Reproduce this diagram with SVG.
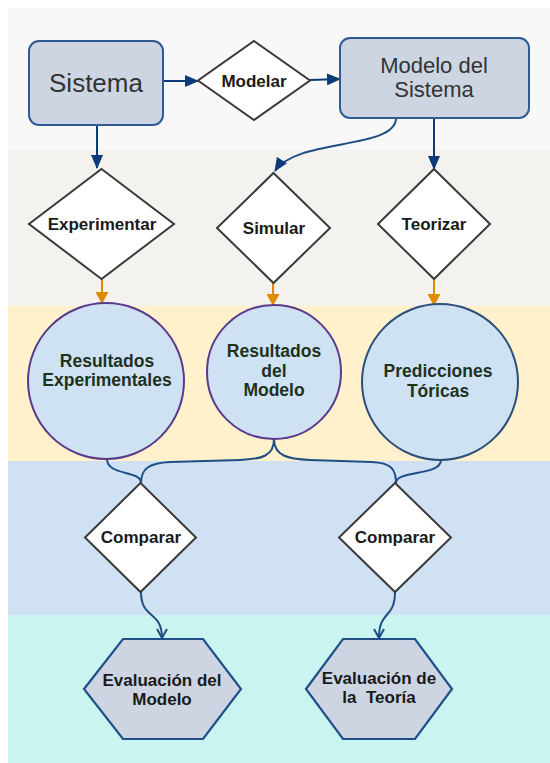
<svg xmlns="http://www.w3.org/2000/svg" width="550" height="763" viewBox="0 0 550 763">
<defs>
<style>
.box{fill:#cdd5e2;stroke:#2f5a94;stroke-width:2}
.dia{fill:#ffffff;stroke:#3a3a3a;stroke-width:2}
.circ{fill:#cfe2f3;stroke-width:2}
.hex{fill:#cdd5e2;stroke:#1f4e89;stroke-width:2.2}
.nav{fill:none;stroke:#0d3b77;stroke-width:2}
.cur{fill:none;stroke:#1f4e85;stroke-width:2}
.org{fill:none;stroke:#e08a00;stroke-width:2}
.tb{font-family:"Liberation Sans",Arial,sans-serif;font-weight:bold;font-size:17px;fill:#1a1a1a;text-anchor:middle}
.tg{font-family:"Liberation Sans",Arial,sans-serif;font-weight:bold;font-size:17.5px;fill:#1e321e;text-anchor:middle}
.tr{font-family:"Liberation Sans",Arial,sans-serif;fill:#333333;text-anchor:middle}
</style>
<marker id="an" markerUnits="userSpaceOnUse" markerWidth="14" markerHeight="12" viewBox="0 0 14 12" refX="13" refY="6" orient="auto"><path d="M0,0 L14,6 L0,12 z" fill="#0d3b77"/></marker>
<marker id="ao" markerUnits="userSpaceOnUse" markerWidth="12" markerHeight="13" viewBox="0 0 12 13" refX="11" refY="6.5" orient="auto"><path d="M0,0 L12,6.5 L0,13 z" fill="#e08a00"/></marker>
<marker id="av" markerUnits="userSpaceOnUse" markerWidth="12" markerHeight="12" viewBox="0 0 12 12" refX="10" refY="6" orient="auto"><path d="M1,1 L10,6 L1,11" fill="none" stroke="#1f4e85" stroke-width="2"/></marker>
</defs>
<rect width="550" height="763" fill="#ffffff"/>
<g id="bands">
<rect x="8" y="8" width="542" height="142" fill="#f8f8f8"/>
<rect x="8" y="150" width="542" height="156" fill="#f3f2ee"/>
<rect x="8" y="306" width="542" height="155" fill="#fff1cc"/>
<rect x="8" y="461" width="542" height="154" fill="#cfe1f2"/>
<rect x="8" y="615" width="542" height="148" fill="#c9f4f0"/>
</g>
<g id="connectors">
<path class="nav" d="M163,81 L198,81" marker-end="url(#an)"/>
<path class="nav" d="M310,80 L340,79" marker-end="url(#an)"/>
<path class="nav" d="M97,125 L97,168" marker-end="url(#an)"/>
<path class="nav" d="M434,118 L434,169" marker-end="url(#an)"/>
<path class="cur" d="M396,118 C396,150 296,138 275,171" marker-end="url(#an)"/>
<path class="org" d="M102,279 L102,303" marker-end="url(#ao)"/>
<path class="org" d="M273,283 L273,305" marker-end="url(#ao)"/>
<path class="org" d="M434,279 L434,305" marker-end="url(#ao)"/>
<path class="cur" d="M107,459 C107,476 141,470 141,483"/>
<path class="cur" d="M274,439 C274,456 262,459 240,460 L170,462 C150,463 141,468 141,483"/>
<path class="cur" d="M274,439 C274,456 288,459 310,460 L372,462 C390,463 396,468 396,483"/>
<path class="cur" d="M441,460 C441,476 396,470 396,483"/>
<path class="cur" d="M141,592 C141,620 162,610 162,638" marker-end="url(#av)"/>
<path class="cur" d="M395,592 C395,619 379,610 379,638" marker-end="url(#av)"/>
</g>
<g id="sistema">
<rect class="box" x="29" y="41" width="134" height="84" rx="10"/>
<text class="tr" x="96" y="92" font-size="26">Sistema</text>
</g>
<g id="modelar">
<polygon class="dia" points="254,41 310,80.5 254,120 198,80.5"/>
<text class="tb" x="254" y="87" font-size="19">Modelar</text>
</g>
<g id="modelo-sistema">
<rect class="box" x="340" y="38" width="189" height="80" rx="10"/>
<text class="tr" x="434" y="73" font-size="22">Modelo del</text>
<text class="tr" x="434" y="97" font-size="22">Sistema</text>
</g>
<g id="experimentar">
<polygon class="dia" points="101.5,169 174,224 101.5,279 29,224"/>
<text class="tb" x="102" y="230">Experimentar</text>
</g>
<g id="simular">
<polygon class="dia" points="273.5,173 330,228 273.5,283 217,228"/>
<text class="tb" x="274" y="234">Simular</text>
</g>
<g id="teorizar">
<polygon class="dia" points="434,169 490,224 434,279 378,224"/>
<text class="tb" x="434" y="230">Teorizar</text>
</g>
<g id="resultados-experimentales">
<circle class="circ" cx="106" cy="381" r="78" stroke="#5a3a8c"/>
<text class="tg" x="107" y="367">Resultados</text>
<text class="tg" x="107" y="386">Experimentales</text>
</g>
<g id="resultados-modelo">
<circle class="circ" cx="274" cy="372" r="67" stroke="#5a3a8c"/>
<text class="tg" x="274" y="357">Resultados</text>
<text class="tg" x="274" y="377">del</text>
<text class="tg" x="274" y="396">Modelo</text>
</g>
<g id="predicciones">
<circle class="circ" cx="440" cy="382" r="78" stroke="#2b4f7a"/>
<text class="tg" x="438" y="377">Predicciones</text>
<text class="tg" x="438" y="397">Tóricas</text>
</g>
<g id="comparar-1">
<polygon class="dia" points="140.5,483 196,537.5 140.5,592 85,537.5"/>
<text class="tb" x="141" y="543">Comparar</text>
</g>
<g id="comparar-2">
<polygon class="dia" points="395,483 451,537.5 395,592 339,537.5"/>
<text class="tb" x="395" y="543">Comparar</text>
</g>
<g id="evaluacion-modelo">
<polygon class="hex" points="84,689 123,639 203,639 241,689 203,739 123,739"/>
<text class="tb" x="162" y="686" fill="#222222">Evaluación del</text>
<text class="tb" x="162" y="705" fill="#222222">Modelo</text>
</g>
<g id="evaluacion-teoria">
<polygon class="hex" points="306,689 343,639 415,639 452,689 415,739 343,739"/>
<text class="tb" x="379" y="684">Evaluación de</text>
<text class="tb" x="379" y="703" xml:space="preserve">la  Teoría</text>
</g>
</svg>
